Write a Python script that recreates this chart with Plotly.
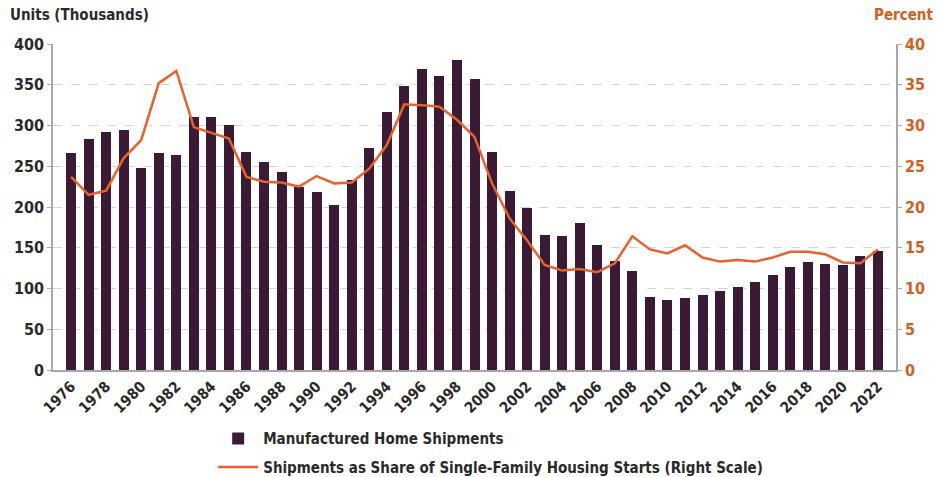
import plotly.graph_objects as go

years = list(range(1976, 2023))

# Manufactured home shipments, thousands of units
shipments = [266, 283, 292, 295, 248, 266, 264, 311, 311, 301,
             268, 255, 243, 225, 218, 202, 233, 272, 317, 348,
             369, 361, 380, 357, 267, 220, 199, 166, 165, 180,
             153, 134, 121, 90, 86, 88, 92, 97, 102, 108,
             117, 126, 133, 130, 129, 140, 146]

# Shipments as a share of single-family housing starts, percent
share = [23.7, 21.5, 22.0, 26.0, 28.2, 35.2, 36.7, 29.8, 29.1, 28.4,
         23.7, 23.1, 23.0, 22.5, 23.8, 22.9, 23.0, 24.7, 27.6, 32.6,
         32.5, 32.3, 30.7, 28.6, 22.9, 18.6, 15.9, 12.9, 12.2, 12.4,
         12.0, 13.1, 16.4, 14.8, 14.3, 15.3, 13.8, 13.3, 13.5, 13.3,
         13.8, 14.5, 14.5, 14.2, 13.2, 13.1, 14.8]

tick_years = list(range(1976, 2023, 2))
left_ticks = list(range(0, 401, 50))
right_ticks = list(range(0, 41, 5))

BAR = "#3b1a36"
ORANGE = "#e8622a"
ORANGE_TXT = "#d2601f"
TXT = "#2a2a2a"
FONT = "Liberation Sans Narrow, DejaVu Sans Condensed, Arial Narrow, sans-serif"

fig = go.Figure()
fig.add_trace(go.Bar(
    x=years, y=shipments, name="<b>Manufactured Home Shipments</b>",
    marker=dict(color=BAR, line=dict(width=0)), width=0.57, yaxis="y",
    legendgroup="a",
))
fig.add_trace(go.Scatter(
    x=years, y=share, name="<b>Shipments as Share of Single-Family Housing Starts (Right Scale)</b>",
    mode="lines", line=dict(color=ORANGE, width=2.5), yaxis="y2",
    legendgroup="b",
))

fig.update_layout(
    width=937, height=477,
    margin=dict(l=53, r=41, t=44, b=107, autoexpand=False),
    paper_bgcolor="white", plot_bgcolor="white",
    font=dict(family=FONT, size=15, color=TXT),
    showlegend=True,
    legend=dict(x=0.19, y=-0.16, xanchor="left", yanchor="top",
                orientation="v", font=dict(size=15, color=TXT),
                tracegroupgap=6, itemwidth=40, bgcolor="rgba(0,0,0,0)"),
    bargap=0,
    xaxis=dict(
        range=[1974.97, 2023.03], tickmode="array", tickvals=tick_years,
        ticktext=[f"<b>{y}</b>" for y in tick_years], tickangle=-45,
        showgrid=False, showline=True, linecolor="#a8a8a8", linewidth=1.5,
        ticks="", tickfont=dict(size=15, color=TXT), zeroline=False,
        automargin=False,
    ),
    yaxis=dict(
        range=[0, 400], tickmode="array", tickvals=left_ticks,
        ticktext=[f"<b>{v}</b>" for v in left_ticks],
        showgrid=True, gridcolor="#d4d4d4", griddash="dash", gridwidth=1,
        showline=True, linecolor="#a8a8a8", linewidth=1.5,
        ticks="outside", ticklen=4, tickcolor="#a8a8a8",
        tickfont=dict(size=16, color=TXT), zeroline=False, automargin=False,
    ),
    yaxis2=dict(
        range=[0, 40], overlaying="y", side="right", tickmode="array",
        tickvals=right_ticks, ticktext=[f"<b>{v}</b>" for v in right_ticks],
        showgrid=False, showline=True, linecolor="#a8a8a8", linewidth=1.5,
        ticks="outside", ticklen=4, tickcolor="#a8a8a8",
        tickfont=dict(size=16, color=ORANGE_TXT), zeroline=False, automargin=False,
    ),
    annotations=[
        dict(text="<b>Units (Thousands)</b>", xref="paper", yref="paper",
             x=-0.053, y=1.055, xanchor="left", yanchor="bottom", showarrow=False,
             font=dict(size=15, color=TXT)),
        dict(text="<b>Percent</b>", xref="paper", yref="paper",
             x=1.046, y=1.055, xanchor="right", yanchor="bottom", showarrow=False,
             font=dict(size=15, color=ORANGE_TXT)),
    ],
)

fig.write_html("out.html")
